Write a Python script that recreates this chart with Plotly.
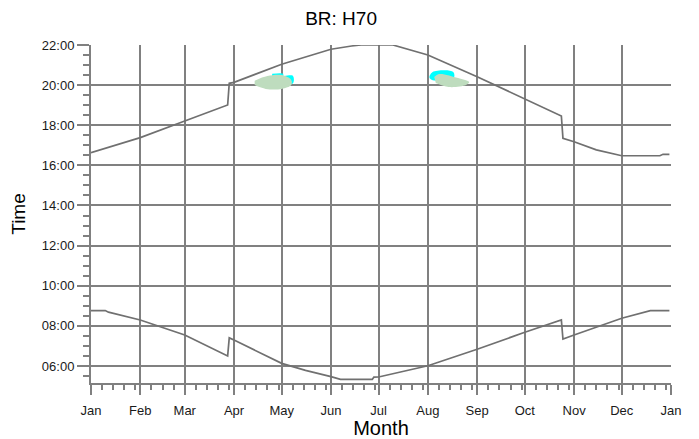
import datetime as dt

import plotly.graph_objects as go

# sunset (upper) and sunrise (lower) times in decimal hours
sunset_dates = ["2023-01-01", "2023-02-01", "2023-03-01", "2023-03-28", "2023-03-29",
                "2023-04-01", "2023-05-01", "2023-06-01", "2023-06-14", "2023-06-20",
                "2023-07-10", "2023-08-01", "2023-09-01", "2023-10-01", "2023-10-24",
                "2023-10-25", "2023-11-01", "2023-11-15", "2023-12-01", "2023-12-25",
                "2023-12-27", "2023-12-31"]
sunset_hours = [16.63, 17.38, 18.21, 19.01, 20.09,
                20.14, 21.04, 21.79, 21.95, 22.0,
                22.0, 21.5, 20.42, 19.29, 18.46,
                17.35, 17.18, 16.77, 16.48, 16.48,
                16.55, 16.55]

sunrise_dates = ["2023-01-01", "2023-01-10", "2023-01-12", "2023-02-01", "2023-03-01",
                 "2023-03-28", "2023-03-29", "2023-04-01", "2023-05-01", "2023-05-16",
                 "2023-06-01", "2023-06-07", "2023-06-27", "2023-06-28", "2023-07-01",
                 "2023-08-01", "2023-09-01", "2023-10-01", "2023-10-24", "2023-10-25",
                 "2023-11-01", "2023-12-01", "2023-12-19", "2023-12-31"]
sunrise_hours = [8.76, 8.76, 8.68, 8.29, 7.54,
                 6.50, 7.40, 7.29, 6.13, 5.78,
                 5.47, 5.33, 5.33, 5.44, 5.45,
                 6.01, 6.83, 7.68, 8.29, 7.34,
                 7.54, 8.38, 8.76, 8.76]

# shaded blobs (day of year, hour)
may_cyan_day = [115.5, 122, 122, 128, 128, 115.5]
may_cyan_hour = [20.57, 20.57, 20.47, 20.47, 20.08, 20.08]
may_green_day = [104.5, 112, 121, 127, 127, 121, 111, 104.5]
may_green_hour = [20.22, 20.45, 20.5, 20.26, 20.0, 19.81, 19.81, 20.0]
aug_cyan_day = [214.6, 216, 229, 229, 216, 214.6]
aug_cyan_hour = [20.45, 20.66, 20.66, 20.3, 20.24, 20.35]
aug_green_day = [217.5, 220, 232, 239, 237, 226, 218.5]
aug_green_hour = [20.4, 20.55, 20.35, 20.15, 20.0, 19.9, 20.1]

hour_ticks = [6, 8, 10, 12, 14, 16, 18, 20, 22]
hour_labels = [f"{h:02d}:00" for h in hour_ticks]

GRID = "#808080"
LINE = "#707070"
FONT = "Liberation Sans, Arial, sans-serif"


def doy(days):
    base = dt.date(2023, 1, 1)
    return [base + dt.timedelta(days=d - 1) for d in days]


fig = go.Figure()

for d, h, col in [(may_cyan_day, may_cyan_hour, "#00ffff"),
                  (aug_cyan_day, aug_cyan_hour, "#00ffff"),
                  (may_green_day, may_green_hour, "#bedcbe"),
                  (aug_green_day, aug_green_hour, "#bedcbe")]:
    fig.add_trace(go.Scatter(x=doy(d), y=h, fill="toself", fillcolor=col,
                             mode="lines", line=dict(width=0), line_shape="spline",
                             hoverinfo="skip"))

fig.add_trace(go.Scatter(x=sunset_dates, y=sunset_hours, mode="lines",
                         line=dict(color=LINE, width=1.7)))
fig.add_trace(go.Scatter(x=sunrise_dates, y=sunrise_hours, mode="lines",
                         line=dict(color=LINE, width=1.7)))

# weekly minor ticks restarting each month
minor_ticks = []
for m in range(1, 13):
    for day in (8, 15, 22, 29):
        try:
            minor_ticks.append(dt.date(2023, m, day))
        except ValueError:
            pass

# page body has an 8px margin, so the figure is sized to fit the window
fig.update_layout(
    width=691, height=431,
    margin=dict(l=83, r=28, t=37, b=56, autoexpand=False),
    paper_bgcolor="white", plot_bgcolor="white",
    showlegend=False,
    font=dict(family=FONT, color="#1a1a1a", size=13),
    title=dict(text="BR: H70", x=0.482, xanchor="center", y=0.975, yanchor="middle",
               font=dict(size=19, color="black")),
)

fig.update_xaxes(
    type="date", range=["2023-01-01", "2024-01-01"],
    tickmode="linear", tick0="2023-01-01", dtick="M1", tickformat="%b",
    showgrid=True, gridcolor=GRID, gridwidth=2,
    showline=True, linecolor=GRID, linewidth=2,
    ticks="outside", ticklen=10, tickwidth=2, tickcolor=GRID,
    ticklabelstandoff=4,
    minor=dict(tickmode="array", tickvals=minor_ticks, ticks="outside",
               ticklen=5, tickwidth=1.5, tickcolor=GRID, showgrid=False),
    title=dict(text="Month", font=dict(size=20, color="black"), standoff=5),
    zeroline=False,
)

fig.update_yaxes(
    range=[5.15, 22.0],
    tickmode="array", tickvals=hour_ticks, ticktext=hour_labels,
    showgrid=True, gridcolor=GRID, gridwidth=2,
    showline=True, linecolor=GRID, linewidth=2,
    ticks="outside", ticklen=12, tickwidth=2, tickcolor=GRID,
    minor=dict(tickmode="linear", tick0=0, dtick=0.5, ticks="outside",
               ticklen=6, tickwidth=1.5, tickcolor=GRID, showgrid=False),
    title=dict(text="Time", font=dict(size=19, color="black"), standoff=11),
    zeroline=False,
)

fig.write_html("out.html")
